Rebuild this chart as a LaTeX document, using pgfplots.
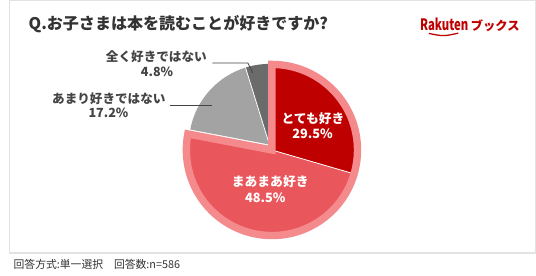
\documentclass[border=0pt]{standalone}
\usepackage{fontspec}
\setmainfont{Noto Sans CJK JP}
\usepackage{graphicx}
\usepackage{pgfplots}
\usepackage{pgfplotstable}
\pgfplotsset{compat=1.18}
\definecolor{redA}{HTML}{BF0000}
\definecolor{redB}{HTML}{E9565B}
\definecolor{pinkB}{HTML}{F48A8C}
\definecolor{grayA}{HTML}{A3A3A3}
\definecolor{grayB}{HTML}{6B6B6B}
\definecolor{txt}{HTML}{444444}
\definecolor{ttl}{HTML}{333333}
\definecolor{frame}{HTML}{E3E3E3}
\definecolor{logo}{HTML}{BF0000}
\pgfplotstableread{
idx value
0 29.5
1 48.5
2 17.2
3 4.8
}\piedata
\begin{document}
\pgfplotstablegetelem{0}{value}\of\piedata \let\va\pgfplotsretval
\pgfplotstablegetelem{1}{value}\of\piedata \let\vb\pgfplotsretval
\pgfplotstablegetelem{2}{value}\of\piedata \let\vc\pgfplotsretval
\pgfplotstablegetelem{3}{value}\of\piedata \let\vd\pgfplotsretval
\pgfmathsetmacro\aA{90-3.6*\va}
\pgfmathsetmacro\aB{\aA-3.6*\vb}
\pgfmathsetmacro\aC{\aB-3.6*\vc}
\pgfmathsetmacro\aD{\aC-3.6*\vd}
\begin{tikzpicture}
\fill[white] (0,0) rectangle (536pt,280pt);
\begin{axis}[x=1pt,y=1pt,xmin=0,xmax=536,ymin=0,ymax=280,hide axis,clip=false,
  at={(0,0)},anchor=south west]
% frame
\draw[frame,line width=1.5pt] (axis cs:0.75,23) rectangle (axis cs:535.25,279.25);
% gray slices
\fill[grayA] (axis cs:265,133) -- ++(\aB:82pt) arc[start angle=\aB,end angle=\aC,radius=82pt] -- cycle;
\fill[grayB] (axis cs:265,133) -- ++(\aC:82pt) arc[start angle=\aC,end angle=\aD,radius=82pt] -- cycle;
\draw[white,line width=0.8pt] (axis cs:265,133) -- ++(\aC:82pt);
% red slices
\fill[redA] (axis cs:267.5,127.5) -- ++(90:87pt) arc[start angle=90,end angle=\aA,radius=87pt] -- cycle;
\fill[redB] (axis cs:267.5,127.5) -- ++(\aA:87pt) arc[start angle=\aA,end angle=\aB,radius=87pt] -- cycle;
\draw[white,line width=0.8pt] (axis cs:267.5,127.5) -- ++(\aA:87pt);
\draw[pinkB,line width=7.5pt,line join=miter,miter limit=10] (axis cs:267.5,127.5) -- ++(90:87pt) arc[start angle=90,end angle=\aB,radius=87pt] -- cycle;
% leader lines
\draw[txt,line width=0.8pt] (axis cs:207,216) -- (axis cs:243,216) -- (axis cs:248,206);
\draw[txt,line width=0.8pt] (axis cs:164,172.5) -- (axis cs:207,172.5);
% labels
\node[txt,inner sep=0,font=\fontsize{12.8}{14}\selectfont\bfseries] at (axis cs:150,222.7) {全く好きではない};
\node[txt,inner sep=0,font=\fontsize{12.8}{14}\selectfont\bfseries] at (axis cs:150.7,207.3) {4.8\%};
\node[txt,inner sep=0,font=\fontsize{12.8}{14}\selectfont\bfseries] at (axis cs:101.7,180) {あまり好きではない};
\node[txt,inner sep=0,font=\fontsize{12.8}{14}\selectfont\bfseries] at (axis cs:101.3,165) {17.2\%};
\node[white,inner sep=0,font=\fontsize{13}{15}\selectfont\bfseries] at (axis cs:309.3,159.3) {とても好き};
\node[white,inner sep=0,font=\fontsize{13}{15}\selectfont\bfseries] at (axis cs:308.8,144) {29.5\%};
\node[white,inner sep=0,font=\fontsize{13}{15}\selectfont\bfseries] at (axis cs:265.8,95) {まあまあ好き};
\node[white,inner sep=0,font=\fontsize{13}{15}\selectfont\bfseries] at (axis cs:260.8,79) {48.5\%};
% title
\node[ttl,inner sep=0,anchor=west,font=\fontsize{16.3}{18}\selectfont\bfseries] at (axis cs:20,255) {Q.お子さまは本を読むことが好きですか?};
% logo
\node[logo,inner sep=0,anchor=base west,font=\fontsize{16}{18}\selectfont\bfseries] at (axis cs:418,249.3) {\resizebox{49pt}{\height}{Rakuten}};
\node[logo,inner sep=0,anchor=base west,font=\fontsize{12.5}{15}\selectfont\bfseries] at (axis cs:469.5,249.3) {ブックス};
\draw[logo,line width=1.3pt] (axis cs:427,246) .. controls (axis cs:442,243) .. (axis cs:457,246.3);
% footnote
\node[ttl,inner sep=0,anchor=west,font=\fontsize{11}{13}\selectfont] at (axis cs:4.7,11) {回答方式:単一選択\hspace{1em}回答数:n=586};
\end{axis}
\end{tikzpicture}
\end{document}
